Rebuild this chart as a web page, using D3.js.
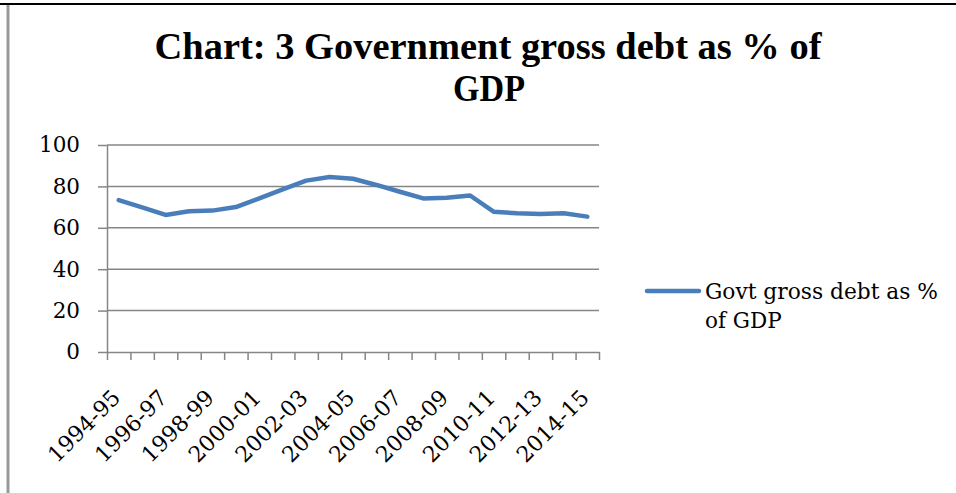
<!DOCTYPE html>
<html>
<head>
<meta charset="utf-8">
<script src="https://cdn.jsdelivr.net/npm/d3@7"></script>
<style>
  html, body { margin: 0; padding: 0; background: #fff; }
  svg { display: block; }
</style>
</head>
<body>
<svg id="chart" width="956" height="493"></svg>
<script>
const categories = ["1994-95","1995-96","1996-97","1997-98","1998-99","1999-00","2000-01","2001-02","2002-03","2003-04","2004-05","2005-06","2006-07","2007-08","2008-09","2009-10","2010-11","2011-12","2012-13","2013-14","2014-15"];
const debtValues = [73.4, 69.9, 66.2, 68.0, 68.3, 70.0, 74.2, 78.6, 82.8, 84.5, 83.7, 80.7, 77.4, 74.2, 74.5, 75.6, 67.8, 67.0, 66.7, 67.0, 65.4];
const yTicks = [0, 20, 40, 60, 80, 100];
const xLabels = ["1994-95","1996-97","1998-99","2000-01","2002-03","2004-05","2006-07","2008-09","2010-11","2012-13","2014-15"];
const seriesName = "Govt gross debt as %";
const seriesName2 = "of GDP";
const titleLines = ["Chart: 3 Government gross debt as % of", "GDP"];

(function () {
const svg = d3.select("#chart");
const gray = "#868686";
const blue = "#4A7EBB";

// frame
svg.append("line").attr("x1", 0).attr("x2", 956).attr("y1", 4).attr("y2", 4)
  .attr("stroke", "#000").attr("stroke-width", 2);
svg.append("line").attr("x1", 8).attr("x2", 8).attr("y1", 5).attr("y2", 493)
  .attr("stroke", "#999").attr("stroke-width", 3);

// title
svg.append("text").attr("x", 488).attr("y", 59).attr("text-anchor", "middle")
  .attr("textLength", 667).attr("lengthAdjust", "spacingAndGlyphs")
  .style("font-family", "'Liberation Serif', serif").style("font-weight", "bold").style("font-size", "37px")
  .text(titleLines[0]);
svg.append("text").attr("x", 489).attr("y", 101).attr("text-anchor", "middle")
  .attr("textLength", 72).attr("lengthAdjust", "spacingAndGlyphs")
  .style("font-family", "'Liberation Serif', serif").style("font-weight", "bold").style("font-size", "37px")
  .text(titleLines[1]);

const pLeft = 107, pRight = 599, pTop = 145, pBottom = 352;
const x = d3.scaleBand().domain(categories).range([pLeft, pRight]).padding(0);
const xi = d3.scaleLinear().domain([0, categories.length]).range([pLeft, pRight]);
const y = d3.scaleLinear().domain([0, 100]).range([pBottom, pTop]);

// gridlines
svg.append("g").selectAll("line").data(yTicks.filter(d => d > 0)).join("line")
  .attr("x1", pLeft).attr("x2", pRight).attr("y1", d => y(d)).attr("y2", d => y(d))
  .attr("stroke", gray).attr("stroke-width", 1.5);

// y axis
const yAxis = svg.append("g").attr("transform", `translate(${pLeft},0)`)
  .call(d3.axisLeft(y).tickValues(yTicks).tickSize(9).tickPadding(18).tickSizeOuter(0));
yAxis.select(".domain").attr("stroke", gray).attr("stroke-width", 1.5);
yAxis.selectAll(".tick line").attr("stroke", gray).attr("stroke-width", 1.5);
yAxis.selectAll("text").style("font-family", "'DejaVu Serif', serif").style("font-size", "21.5px").attr("fill", "#000");

// x axis ticks at category boundaries
const xAxis = svg.append("g").attr("transform", `translate(0,${pBottom})`)
  .call(d3.axisBottom(xi).tickValues(d3.range(categories.length + 1)).tickSize(8).tickFormat("").tickSizeOuter(0));
xAxis.select(".domain").attr("stroke", gray).attr("stroke-width", 1.5);
xAxis.selectAll(".tick line").attr("stroke", gray).attr("stroke-width", 1.5);

// x labels rotated
svg.append("g").selectAll("text").data(xLabels).join("text")
  .attr("transform", d => `translate(${x(d) + x.bandwidth() / 2 + 3},399) rotate(-45)`)
  .attr("text-anchor", "end")
  .style("font-family", "'DejaVu Serif', serif").style("font-size", "22px")
  .text(d => d);

// line
const line = d3.line().x((d, i) => x(categories[i]) + x.bandwidth() / 2).y(d => y(d));
svg.append("path").datum(debtValues).attr("d", line)
  .attr("fill", "none").attr("stroke", blue).attr("stroke-width", 4.5)
  .attr("stroke-linejoin", "round").attr("stroke-linecap", "round");

// legend
svg.append("line").attr("x1", 647).attr("x2", 699).attr("y1", 291).attr("y2", 291)
  .attr("stroke", blue).attr("stroke-width", 4.5).attr("stroke-linecap", "round");
svg.append("text").attr("x", 705).attr("y", 299)
  .attr("textLength", 233).attr("lengthAdjust", "spacingAndGlyphs")
  .style("font-family", "'DejaVu Serif', serif").style("font-size", "21.5px").text(seriesName);
svg.append("text").attr("x", 705).attr("y", 328)
  .style("font-family", "'DejaVu Serif', serif").style("font-size", "21.5px").text(seriesName2);
})();
</script>
</body>
</html>
